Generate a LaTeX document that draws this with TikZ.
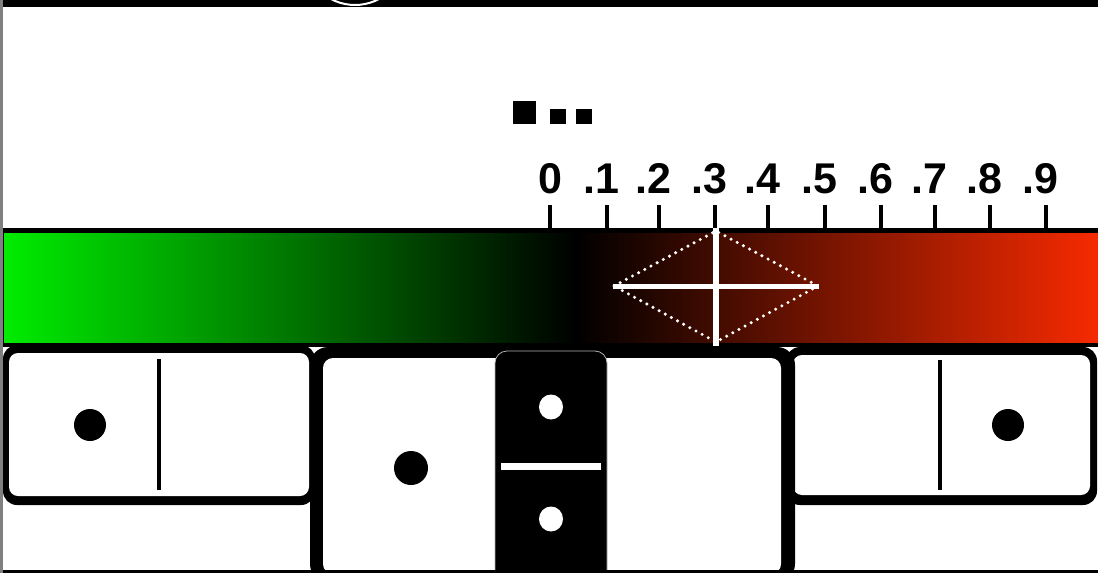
\documentclass[tikz,border=0pt]{standalone}
\usepackage{fontspec}
\setmainfont{Liberation Sans}
\definecolor{gl}{RGB}{0,236,0}
\definecolor{rd}{RGB}{246,42,0}
\definecolor{strip}{RGB}{128,128,128}
\tikzset{
  ticklab/.style={anchor=base,inner sep=0pt,font=\fontsize{43}{43}\selectfont\bfseries},
  tickline/.style={line width=3.5pt},
  divider/.style={line width=3.5pt},
  pip/.style={fill=black},
  wpip/.style={fill=white}
}
\begin{document}
\begin{tikzpicture}[x=1pt,y=-1pt]
\useasboundingbox (0,0) rectangle (1098,573);
\fill[white] (0,0) rectangle (1098,573);
\fill[strip] (0,0) rectangle (3,573);
% top band with arc
\fill[black] (3,0) rectangle (1098,7);
\begin{scope}
  \clip (3,0) rectangle (1098,7);
  \draw[white,line width=2pt] (355,-46) circle (51);
\end{scope}
% squares
\fill[black] (513,101) rectangle (536,124);
\fill[black] (550,109) rectangle (566,124);
\fill[black] (576,109) rectangle (592,124);
% ticks and labels
\foreach \x/\l/\n in {550/0/t0,607/\llap{.}1/t1,659/\llap{.}2/t2,715/\llap{.}3/t3,768/\llap{.}4/t4,825/\llap{.}5/t5,881/\llap{.}6/t6,935/\llap{.}7/t7,990/\llap{.}8/t8,1046/\llap{.}9/t9}{
  \draw[tickline] (\x,205) -- (\x,229);
  \node[ticklab] (\n) at (\x,193) {\l};
}
% colour bar
\fill[black] (3,228) rectangle (1098,347);
\shade[left color=gl,right color=black] (4,233) rectangle (576,342);
\shade[left color=black,right color=rd] (575,233) rectangle (1098,342);
% overlay
\draw[white,line width=3.4pt,dash pattern=on 0pt off 7pt,line cap=round] (614,286) -- (716,231) -- (818,286) -- (716,342) -- cycle;
\draw[white,line width=5pt] (613,286.5) -- (819,286.5);
\draw[white,line width=6pt] (716,228) -- (716,346);
% left domino
\fill[black,rounded corners=14pt] (3,345) rectangle (315,505);
\fill[white,rounded corners=9pt] (9,353) rectangle (309,496);
\draw[divider] (159,359) -- (159,490);
\fill[pip] (90,425) circle (16);
% right domino
\fill[black,rounded corners=14pt] (786,347) rectangle (1097,505);
\fill[white,rounded corners=9pt] (793,355) rectangle (1090,495);
\draw[divider] (940,360) -- (940,490);
\fill[pip] (1008,425) circle (16);
% middle domino
\fill[black,rounded corners=18pt] (310,347) rectangle (795,582);
\fill[white,rounded corners=10pt] (323,358) rectangle (781,574);
\fill[pip] (411,468) circle (17);
\filldraw[fill=black,draw=gray!60,line width=0.8pt,rounded corners=12pt] (495,351) rectangle (607,590);
\fill[wpip] (551,407) ellipse (12 and 12.5);
\fill[wpip] (551,519) ellipse (12 and 12.5);
\fill[white] (501,463) rectangle (601,470);
% bottom line
\fill[black] (3,570) rectangle (1098,573);
\end{tikzpicture}
\end{document}
